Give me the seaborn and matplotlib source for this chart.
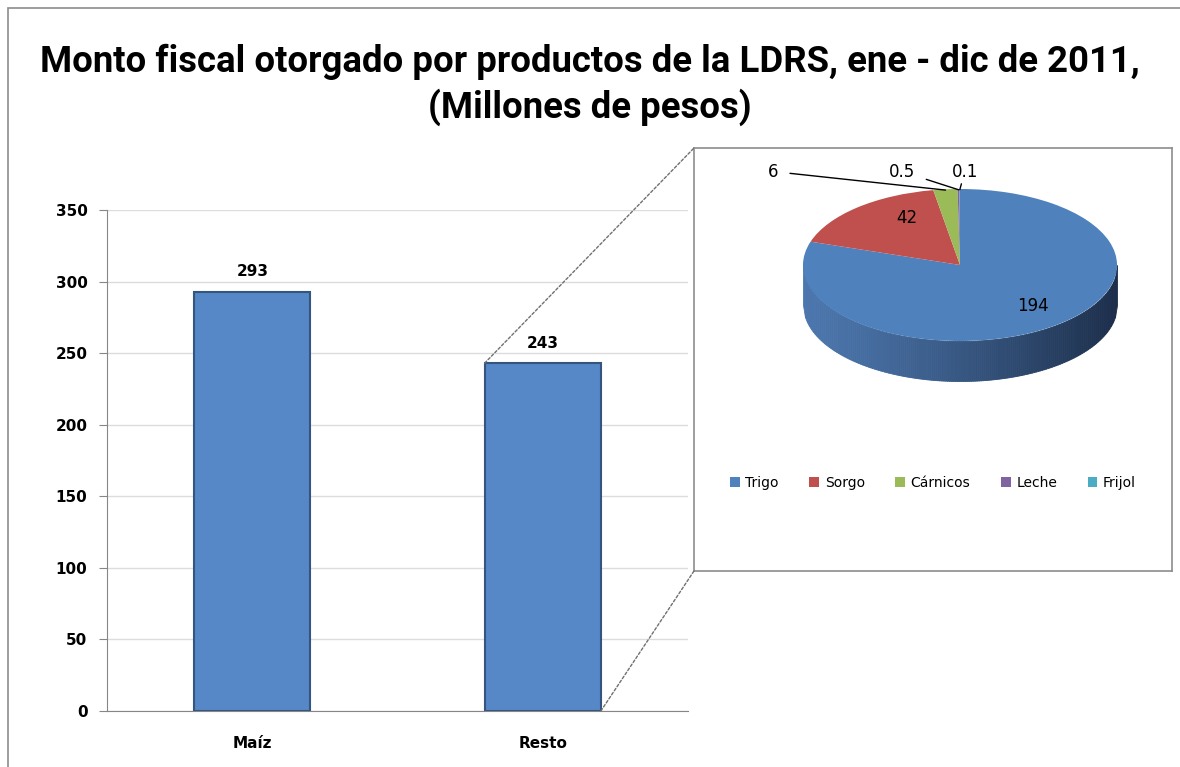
import numpy as np
import matplotlib
matplotlib.use("Agg")
import matplotlib.pyplot as plt
import seaborn as sns
from matplotlib.patches import ConnectionPatch, Rectangle

# Datos
categorias = ["Maíz", "Resto"]
montos = [293, 243]

productos = ["Trigo", "Sorgo", "Cárnicos", "Leche", "Frijol"]
montos_resto = [194, 42, 6, 0.5, 0.1]
etiquetas_resto = ["194", "42", "6", "0.5", "0.1"]
colores_resto = ["#4F81BD", "#C0504D", "#9BBB59", "#8064A2", "#4BACC6"]

sns.set_style("white")
plt.rcParams["font.family"] = ["DejaVu Sans"]
plt.rcParams["text.color"] = "black"
plt.rcParams["xtick.labelcolor"] = "black"
plt.rcParams["ytick.labelcolor"] = "black"

W, H = 1180, 767
fig = plt.figure(figsize=(W / 100, H / 100), dpi=100)

# marco exterior
fig.patches.append(Rectangle((8 / W, -0.02), 1.0, 1 - 8 / H + 0.02, transform=fig.transFigure,
                             fill=False, edgecolor="#8c8c8c", lw=1.2))

fig.text(0.5, 1 - 62 / H, "Monto fiscal otorgado por productos de la LDRS, ene - dic de 2011,",
         ha="center", va="center", fontsize=26.3, fontweight="bold", family=["Roboto", "DejaVu Sans"])
fig.text(0.5, 1 - 107 / H, "(Millones de pesos)", ha="center", va="center", fontsize=26.3,
         fontweight="bold", family=["Roboto", "DejaVu Sans"])

# ---- barras ----
ax = fig.add_axes([107 / W, 1 - 711 / H, 581 / W, 501 / H])
sns.barplot(x=categorias, y=montos, color="#5687C6", width=0.4, saturation=1,
            edgecolor="#34557f", linewidth=1.5, ax=ax)
ax.set_ylim(0, 350)
ax.set_xlim(-0.5, 1.5)
ax.set_yticks(range(0, 351, 50))
ax.yaxis.grid(True, color="#dcdcdc", lw=1)
ax.set_axisbelow(True)
for s in ["top", "right"]:
    ax.spines[s].set_visible(False)
for s in ["left", "bottom"]:
    ax.spines[s].set_color("#868686")
ax.set_xticks([-0.5, 0.5, 1.5], minor=True)
ax.tick_params(axis="x", which="minor", length=7, color="#868686", direction="out")
ax.tick_params(axis="x", which="major", length=0, pad=18, labelsize=11)
ax.tick_params(axis="y", length=6, color="#868686", direction="out", pad=8, labelsize=11, left=True)
for lab in ax.get_xticklabels() + ax.get_yticklabels():
    lab.set_fontweight("bold")
ax.bar_label(ax.containers[0], fmt="%d", padding=9, fontsize=11, fontweight="bold")
ax.set_xlabel("")
ax.set_ylabel("")

# ---- pastel (inserto) ----
px0, py0, pw, ph = 694, 148, 478, 423
pax = fig.add_axes([px0 / W, 1 - (py0 + ph) / H, pw / W, ph / H])
cx, cy, rx, ry = 960, 265, 157, 76
depth = 40 / ry

# lado del cilindro con degradado
xs = np.linspace(-1, 1, 160)
c_left = np.array([0x4C, 0x77, 0xAE]) / 255
c_right = np.array([0x1C, 0x2E, 0x4A]) / 255
for i in range(len(xs) - 1):
    xm = np.array([xs[i], xs[i + 1]])
    yt = -np.sqrt(np.clip(1 - xm ** 2, 0, 1))
    t = ((xs[i] + xs[i + 1]) / 2 + 1) / 2
    col = c_left * (1 - t ** 1.2) + c_right * t ** 1.2
    pax.fill_between(xm, yt - depth, yt, color=col, lw=0.6, edgecolor=col, zorder=1)

wedges, _ = pax.pie(montos_resto, colors=colores_resto, startangle=90, counterclock=False,
                    radius=1, wedgeprops=dict(linewidth=0, zorder=2))
pax.set_aspect("auto")
pax.set_frame_on(True)
pax.set_xlim((px0 - cx) / rx, (px0 + pw - cx) / rx)
pax.set_ylim((cy - (py0 + ph)) / ry, (cy - py0) / ry)
pax.set_xticks([])
pax.set_yticks([])
for s in pax.spines.values():
    s.set_color("#8c8c8c")
    s.set_linewidth(1.2)

# etiquetas de valor
ang = [(w.theta1 + w.theta2) / 2 for w in wedges]
factores = {0: (0.79, 0.67), 1: (0.52, 0.82)}
for i, (fx, fy) in factores.items():
    a = np.deg2rad(ang[i])
    pax.text(fx * np.cos(a), fy * np.sin(a), etiquetas_resto[i], ha="center", va="center",
             fontsize=12)
text_pos = {2: (-1.19, 1.23), 3: (-0.37, 1.23), 4: (0.03, 1.23)}
for i, (tx, ty) in text_pos.items():
    a = np.deg2rad(ang[i])
    pax.annotate(etiquetas_resto[i], xy=(np.cos(a) * 0.99, np.sin(a) * 0.99), xytext=(tx, ty),
                 ha="center", va="center", fontsize=12,
                 arrowprops=dict(arrowstyle="-", color="black", lw=1, shrinkA=6, shrinkB=0))

leg = pax.legend(wedges, productos, loc="center", bbox_to_anchor=(0.5, 1 - (483 - py0) / ph),
                 ncol=5, frameon=False, fontsize=10, handlelength=0.7, handleheight=0.7,
                 columnspacing=2.2, handletextpad=0.4)

# lineas de conexion
for (xa, ya), (xb, yb) in [((0.8, 243), (0, 1)), ((1.2, 0), (0, 0))]:
    con = ConnectionPatch(xyA=(xa, ya), coordsA=ax.transData, xyB=(xb, yb), coordsB=pax.transAxes,
                          linestyle=(0, (2, 1.5)), color="#707070", lw=1)
    fig.add_artist(con)

fig.savefig("out.png", dpi=100)
